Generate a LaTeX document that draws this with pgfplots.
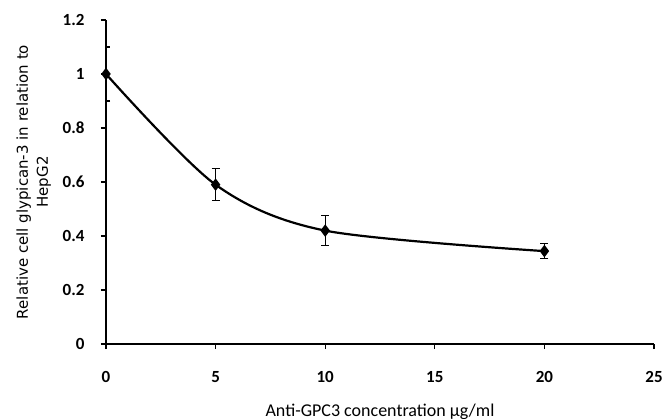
\documentclass[border=0pt]{standalone}
\usepackage{fontspec}
\setmainfont{Carlito}
\newfontfamily\ylabfont{DejaVu Sans}
\usepackage{pgfplots}
\pgfplotsset{compat=1.18}

\begin{document}
\begin{tikzpicture}
  \path[use as bounding box] (0,0) rectangle (665bp,419bp);
  \begin{axis}[
      at={(106bp,75bp)}, anchor=south west,
      scale only axis,
      width=548bp, height=324bp,
      xmin=0, xmax=25, ymin=0, ymax=1.2,
      xtick={0,5,10,15,20,25},
      ytick={0,0.2,0.4,0.6,0.8,1,1.2},
      yticklabels={0,0.2,0.4,0.6,0.8,1,1.2},
      axis x line*=bottom, axis y line*=left,
      axis line style={line width=2bp, -},
      tick style={line width=1.2bp, black},
      tick align=outside,
      major tick length=5bp,
      /pgf/number format/assume math mode=true,
      ticklabel style={font=\fontsize{17bp}{19bp}\selectfont\bfseries},
      xticklabel style={yshift=-19bp},
      yticklabel style={xshift=-13bp},
      xlabel={Anti-GPC3 concentration µg/ml},
      xlabel style={font=\fontsize{18bp}{20bp}\selectfont,
        at={(axis description cs:0.5,0)}, anchor=base, yshift=-72bp},
      ylabel={Relative cell glypican-3 in relation to\\HepG2},
      ylabel style={font=\ylabfont\fontsize{15bp}{20bp}\selectfont, align=center,
        at={(axis description cs:-0.100,0.5)}, anchor=south, inner sep=0pt},
    ]
    \addplot[black, line width=2.2bp, smooth, tension=0.5,
      mark=diamond*, mark size=4.5bp, mark options={solid},
      error bars/.cd, y dir=both, y explicit,
      error bar style={line width=1.2bp},
      error mark options={rotate=90, mark size=4bp, line width=1.2bp}]
      coordinates {
        (0,1) +- (0,0.1)
        (5,0.59) +- (0,0.06)
        (10,0.42) +- (0,0.055)
        (20,0.344) +- (0,0.028)
      };
  \end{axis}
\end{tikzpicture}
\end{document}
